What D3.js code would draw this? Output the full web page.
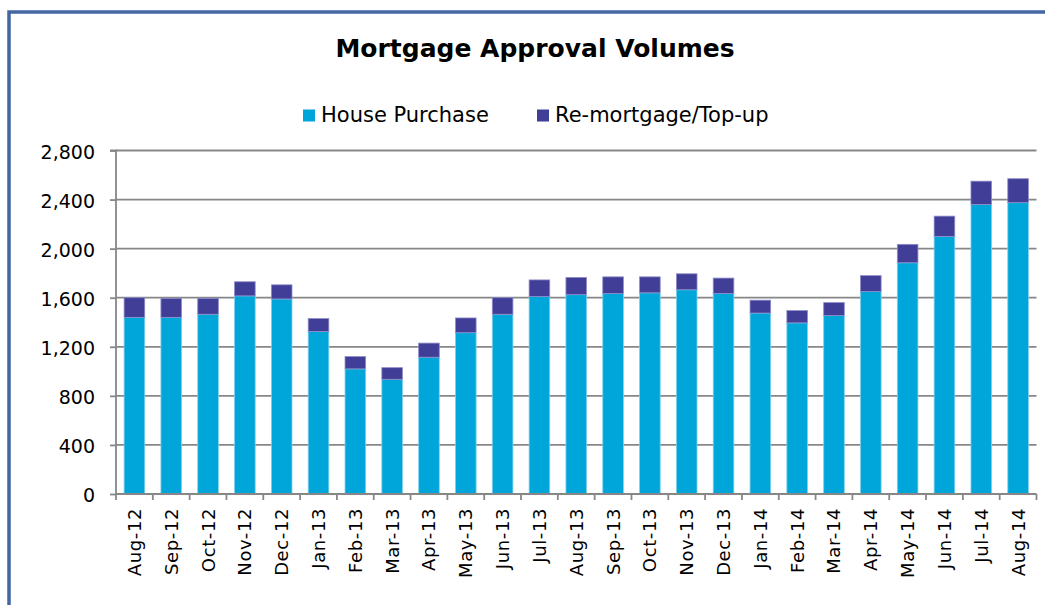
<!DOCTYPE html>
<html>
<head>
<meta charset="utf-8">
<script src="https://cdn.jsdelivr.net/npm/d3@7"></script>
<style>
  html, body { margin: 0; padding: 0; background: #fff; }
  svg { display: block; }
  text { font-family: "DejaVu Sans", Verdana, sans-serif; fill: #000; }
</style>
</head>
<body>
<script>
const months = ["Aug-12","Sep-12","Oct-12","Nov-12","Dec-12","Jan-13","Feb-13","Mar-13","Apr-13","May-13","Jun-13","Jul-13","Aug-13","Sep-13","Oct-13","Nov-13","Dec-13","Jan-14","Feb-14","Mar-14","Apr-14","May-14","Jun-14","Jul-14","Aug-14"];
const housePurchase = [1440,1440,1465,1615,1590,1325,1020,935,1115,1315,1465,1610,1625,1635,1640,1665,1635,1475,1395,1455,1650,1885,2100,2360,2375];
const remortgage = [160,155,130,115,115,105,100,95,115,120,135,135,140,135,130,130,125,105,100,105,130,150,165,190,195];
const seriesNames = ["House Purchase", "Re-mortgage/Top-up"];
const seriesColors = ["#00A6D9", "#413E97"];
const seriesStroke = ["#7FD0EC", "#8F8CC8"];
const yTicks = [0,400,800,1200,1600,2000,2400,2800];

const W = 1045, H = 605;
const svg = d3.select("body").append("svg").attr("width", W).attr("height", H);

// outer frame
svg.append("rect").attr("x", 9).attr("y", 12).attr("width", 1200).attr("height", 800)
  .attr("fill", "none").attr("stroke", "#4467A3").attr("stroke-width", 3.5);

const plot = {left: 116, right: 1036.5, top: 150.5, bottom: 494};

const x = d3.scaleBand().domain(months).range([plot.left, plot.right])
  .paddingInner(0.44).paddingOuter(0.22);
const y = d3.scaleLinear().domain([0, 2800]).range([plot.bottom, plot.top]);

// gridlines
svg.append("g").selectAll("line").data(yTicks.filter(d => d > 0)).join("line")
  .attr("x1", plot.left).attr("x2", plot.right)
  .attr("y1", d => y(d)).attr("y2", d => y(d))
  .attr("stroke", "#878787").attr("stroke-width", 1.8);

// bars
const table = months.map((m, i) => ({month: m, hp: housePurchase[i], rm: remortgage[i]}));
const stack = d3.stack().keys(["hp", "rm"])(table);
svg.append("g").selectAll("g").data(stack).join("g")
  .attr("fill", (d, i) => seriesColors[i])
  .attr("stroke", (d, i) => seriesStroke[i])
  .attr("stroke-width", 0.8)
  .selectAll("rect").data(d => d).join("rect")
  .attr("x", d => x(d.data.month))
  .attr("width", x.bandwidth())
  .attr("y", d => y(d[1]))
  .attr("height", d => y(d[0]) - y(d[1]));

// y axis
const yAxis = d3.axisLeft(y).tickValues(yTicks).tickSize(6).tickPadding(15)
  .tickFormat(d3.format(","));
const gy = svg.append("g").attr("transform", `translate(${plot.left},0)`).call(yAxis);
gy.select(".domain").attr("stroke", "#878787").attr("stroke-width", 1.8)
  .attr("d", `M-6,${plot.top}H0V${plot.bottom}`);
gy.selectAll(".tick line").attr("stroke", "#878787").attr("stroke-width", 1.8);
gy.selectAll(".tick text").attr("font-size", 19).attr("dy", "0.4em")
  .style("font-family", "'DejaVu Sans', sans-serif").attr("fill", "#000");

// x axis
const xAxis = d3.axisBottom(x).tickSize(0).tickPadding(0);
const gx = svg.append("g").attr("transform", `translate(0,${plot.bottom})`).call(xAxis);
gx.select(".domain").attr("stroke", "#878787").attr("stroke-width", 1.8)
  .attr("d", `M${plot.left},0H${plot.right}`);
gx.selectAll(".tick line").remove();
gx.selectAll(".tick text")
  .attr("font-size", 18)
  .style("font-family", "'DejaVu Sans', sans-serif")
  .attr("fill", "#000")
  .attr("letter-spacing", 0.6)
  .attr("text-anchor", "end")
  .attr("transform", "rotate(-90)")
  .attr("x", -14).attr("y", 0).attr("dy", "0.36em");
// category separator ticks
const bounds = months.map(m => x(m) - x.step() * x.paddingInner() / 2);
bounds.push(plot.right);
bounds[0] = plot.left;
gx.append("g").selectAll("line").data(bounds).join("line")
  .attr("x1", d => d).attr("x2", d => d).attr("y1", 0).attr("y2", 6)
  .attr("stroke", "#878787").attr("stroke-width", 1.8);

// title
svg.append("text").attr("x", 535).attr("y", 57).attr("text-anchor", "middle")
  .attr("font-size", 25).attr("font-weight", "bold").text("Mortgage Approval Volumes");

// legend
const legendPos = [{sx: 303, tx: 321}, {sx: 537, tx: 555}];
const lg = svg.append("g").selectAll("g").data(seriesNames).join("g");
lg.append("rect").attr("x", (d, i) => legendPos[i].sx).attr("y", 109.5)
  .attr("width", 12).attr("height", 12).attr("fill", (d, i) => seriesColors[i]);
lg.append("text").attr("x", (d, i) => legendPos[i].tx).attr("y", 122)
  .attr("font-size", 21).text(d => d);
</script>
</body>
</html>
